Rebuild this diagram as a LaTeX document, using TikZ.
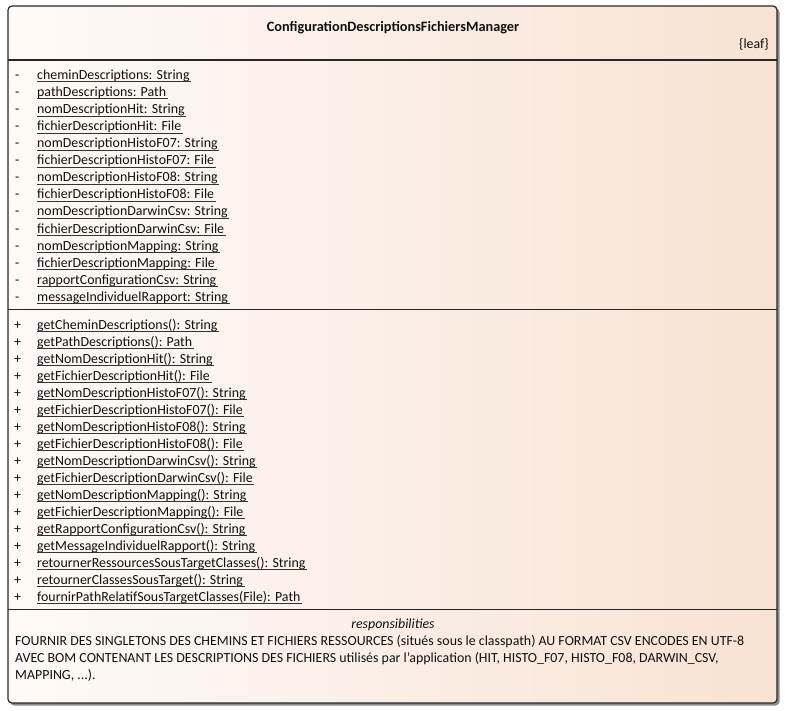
\documentclass[tikz,border=0pt]{standalone}
\usepackage{fontspec}
\setmainfont{Carlito}
\definecolor{fillL}{HTML}{FEFAF7}
\definecolor{fillR}{HTML}{F8E2D3}
\definecolor{ink}{HTML}{101010}
\begin{document}
\begin{tikzpicture}[x=1pt,y=-1pt,
  txt/.style={inner sep=0pt,anchor=base west,font=\fontsize{13.9}{17}\selectfont,text=ink},
  ul/.style={draw=ink!85,line width=0.8pt},
  divider/.style={draw=black!85,line width=1.2pt}]
\useasboundingbox (0,0) rectangle (785,710);
\fill[black!45,rounded corners=4] (10,8.5) rectangle (779.5,705.5);
\shade[left color=fillL,right color=fillR,rounded corners=4,draw=black!85,line width=1.2pt] (8,6) rectangle (777,703);
\draw[divider] (8,60) -- (777,60);
\draw[divider] (8,309.5) -- (777,309.5);
\draw[divider] (8,609.5) -- (777,609.5);
\node[txt,anchor=base,font=\fontsize{14.3}{17}\selectfont\bfseries] (title) at (393,31.5) {ConfigurationDescriptionsFichiersManager};
\node[txt,anchor=base east] (leaf) at (769,48.5) {\{leaf\}};
\foreach \t [count=\i from 0] in {cheminDescriptions: String,pathDescriptions: Path,nomDescriptionHit: String,fichierDescriptionHit: File,nomDescriptionHistoF07: String,fichierDescriptionHistoF07: File,nomDescriptionHistoF08: String,fichierDescriptionHistoF08: File,nomDescriptionDarwinCsv: String,fichierDescriptionDarwinCsv: File,nomDescriptionMapping: String,fichierDescriptionMapping: File,rapportConfigurationCsv: String,messageIndividuelRapport: String}{
  \node[txt] (am\i) at (15,79.3+17.08*\i) {-};
  \node[txt] (a\i) at (37,79.3+17.08*\i) {\t};
  \draw[ul] ([yshift=-2.5pt]a\i.base west) -- ([yshift=-2.5pt,xshift=1.5pt]a\i.base east);
}
\foreach \t [count=\i from 0] in {getCheminDescriptions(): String,getPathDescriptions(): Path,getNomDescriptionHit(): String,getFichierDescriptionHit(): File,getNomDescriptionHistoF07(): String,getFichierDescriptionHistoF07(): File,getNomDescriptionHistoF08(): String,getFichierDescriptionHistoF08(): File,getNomDescriptionDarwinCsv(): String,getFichierDescriptionDarwinCsv(): File,getNomDescriptionMapping(): String,getFichierDescriptionMapping(): File,getRapportConfigurationCsv(): String,getMessageIndividuelRapport(): String,retournerRessourcesSousTargetClasses(): String,retournerClassesSousTarget(): String,fournirPathRelatifSousTargetClasses(File): Path}{
  \node[txt] (mp\i) at (14,329.3+17*\i) {+};
  \node[txt] (m\i) at (37,329.3+17*\i) {\t};
  \draw[ul] ([yshift=-2.5pt]m\i.base west) -- ([yshift=-2.5pt,xshift=1.5pt]m\i.base east);
}
\node[txt,anchor=base,font=\fontsize{13.9}{17}\selectfont\itshape] (resp) at (393,628) {responsibilities};
\node[txt] (r1) at (15,645) {FOURNIR DES SINGLETONS DES CHEMINS ET FICHIERS RESSOURCES (situés sous le classpath) AU FORMAT CSV ENCODES EN UTF-8};
\node[txt] (r2) at (15,662) {AVEC BOM CONTENANT LES DESCRIPTIONS DES FICHIERS utilisés par l'application (HIT, HISTO\_F07, HISTO\_F08, DARWIN\_CSV,};
\node[txt] (r3) at (15,679) {MAPPING, ...).};
\end{tikzpicture}
\end{document}
